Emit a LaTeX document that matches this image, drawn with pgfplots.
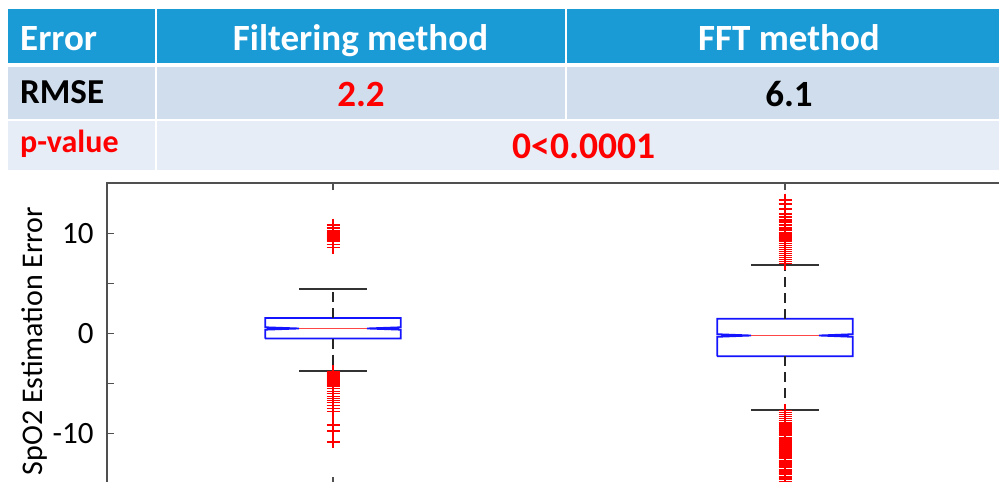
\documentclass[border=0pt]{standalone}
\usepackage{pgfplots}
\pgfplotsset{compat=1.18}
\usepackage{fontspec}
\setmainfont{Carlito}
\definecolor{hdr}{RGB}{27,155,214}
\definecolor{rowa}{RGB}{207,221,236}
\definecolor{rowb}{RGB}{231,237,246}
\definecolor{axgray}{RGB}{80,80,80}
\definecolor{boxblue}{RGB}{20,20,255}
\definecolor{medred}{RGB}{255,70,70}
\begin{document}
\begin{tikzpicture}
\useasboundingbox (0pt,0pt) rectangle (999pt,-482pt);
\clip (0pt,0pt) rectangle (999pt,-482pt);
\begin{scope}[x=1pt,y=-1pt]
\fill[hdr] (8,9) rectangle (154.5,62.5);
\fill[hdr] (156.5,9) rectangle (564.5,62.5);
\fill[hdr] (566.5,9) rectangle (1011,62.5);
\fill[rowa] (8,66.5) rectangle (154.5,119);
\fill[rowa] (156.5,66.5) rectangle (564.5,119);
\fill[rowa] (566.5,66.5) rectangle (1011,119);
\fill[rowb] (8,121) rectangle (154.5,170);
\fill[rowb] (156.5,121) rectangle (1011,170);
\node[anchor=base west,inner sep=0pt,text=white,font=\bfseries\fontsize{37}{37}\selectfont] at (20,50) {Error};
\node[anchor=base,inner sep=0pt,text=white,font=\bfseries\fontsize{37}{37}\selectfont] at (360.5,50) {Filtering method};
\node[anchor=base,inner sep=0pt,text=white,font=\bfseries\fontsize{37}{37}\selectfont] at (789,50) {FFT method};
\node[anchor=base west,inner sep=0pt,text=black,font=\bfseries\fontsize{35}{35}\selectfont] at (20,103) {RMSE};
\node[anchor=base,inner sep=0pt,text=red,font=\bfseries\fontsize{37}{37}\selectfont] at (361,106) {2.2};
\node[anchor=base,inner sep=0pt,text=black,font=\bfseries\fontsize{37}{37}\selectfont] at (789,106) {6.1};
\node[anchor=base west,inner sep=0pt,text=red,font=\bfseries\fontsize{32}{32}\selectfont] at (20,152) {p-value};
\node[anchor=base,inner sep=0pt,text=red,font=\bfseries\fontsize{37.5}{37.5}\selectfont] at (584,158) {0<0.0001};
\end{scope}
\begin{axis}[
  at={(107pt,-183pt)}, anchor=north west,
  width=904pt, height=301pt, scale only axis,
  xmin=0.5, xmax=2.5, ymin=-15, ymax=15,
  xtick={1,2}, xticklabels={,},
  ytick={-10,-5,0,5,10}, yticklabels={-10,,0,,10},
  tick align=inside, major tick length=7pt,
  tick style={line width=1.3pt, color=axgray},
  axis line style={line width=1.8pt, color=axgray},
  yticklabel style={font=\fontsize{31}{31}\selectfont, xshift=-10pt},
  ylabel={SpO2 Estimation Error},
  ylabel style={font=\fontsize{30}{30}\selectfont, at={(axis description cs:-0.0797,0.475)}, anchor=center},
]
% box 1
\addplot[boxblue, line width=1.8pt] coordinates {(0.85,-0.5) (0.85,0.38) (0.925,0.5) (0.85,0.62) (0.85,1.55) (1.15,1.55) (1.15,0.62) (1.075,0.5) (1.15,0.38) (1.15,-0.5) (0.85,-0.5)};
\addplot[medred, line width=1.8pt] coordinates {(0.925,0.5) (1.075,0.5)};
\addplot[black!85, line width=2pt, dash pattern=on 10pt off 6pt] coordinates {(1,1.55) (1,4.47)};
\addplot[black!85, line width=2pt, dash pattern=on 10pt off 6pt] coordinates {(1,-0.5) (1,-3.7)};
\addplot[black!80, line width=1.8pt] coordinates {(0.925,4.47) (1.075,4.47)};
\addplot[black!80, line width=1.8pt] coordinates {(0.925,-3.7) (1.075,-3.7)};
\addplot[only marks, mark=+, red, mark size=6.5pt, mark options={red, line width=1.4pt}] coordinates {
(1,10.8) (1,10.5) (1,10.2) (1,10.0) (1,9.9) (1,9.8) (1,9.7) (1,9.6) (1,9.5) (1,9.4) (1,9.3) (1,9.2) (1,8.9) (1,8.6)
(1,-3.8) (1,-3.9) (1,-4.0) (1,-4.1) (1,-4.2) (1,-4.3) (1,-4.4) (1,-4.5) (1,-4.6) (1,-4.7) (1,-4.8) (1,-4.9) (1,-5.0) (1,-5.1) (1,-5.2) (1,-5.3)
(1,-5.5) (1,-5.8) (1,-6.0) (1,-6.3) (1,-6.5) (1,-6.7) (1,-6.9) (1,-7.2) (1,-7.5) (1,-7.8)
(1,-9.1) (1,-9.7) (1,-10.8)};
% box 2
\addplot[boxblue, line width=1.8pt] coordinates {(1.85,-2.27) (1.85,-0.33) (1.925,-0.2) (1.85,-0.07) (1.85,1.47) (2.15,1.47) (2.15,-0.07) (2.075,-0.2) (2.15,-0.33) (2.15,-2.27) (1.85,-2.27)};
\addplot[medred, line width=1.8pt] coordinates {(1.925,-0.2) (2.075,-0.2)};
\addplot[black!85, line width=2pt, dash pattern=on 10pt off 6pt] coordinates {(2,1.47) (2,6.8)};
\addplot[black!85, line width=2pt, dash pattern=on 10pt off 6pt] coordinates {(2,-2.27) (2,-7.6)};
\addplot[black!80, line width=1.8pt] coordinates {(1.925,6.8) (2.075,6.8)};
\addplot[black!80, line width=1.8pt] coordinates {(1.925,-7.6) (2.075,-7.6)};
\addplot[only marks, mark=+, red, mark size=6.5pt, mark options={red, line width=1.4pt}] coordinates {
(2,13.3) (2,12.9) (2,12.4) (2,11.9) (2,11.6) (2,11.3) (2,11.1) (2,10.8) (2,10.5) (2,10.3) (2,10.0) (2,9.8) (2,9.6) (2,9.5) (2,9.4) (2,9.2) (2,9.0) (2,8.8) (2,8.6) (2,8.4) (2,8.2) (2,8.0) (2,7.8) (2,7.6) (2,7.4) (2,7.2) (2,7.0)
(2,-7.7) (2,-7.9) (2,-8.1) (2,-8.3) (2,-8.5) (2,-8.7) (2,-8.9) (2,-9.1) (2,-9.3) (2,-9.5) (2,-9.7) (2,-9.9) (2,-10.1) (2,-10.4) (2,-10.6) (2,-10.8) (2,-11.0) (2,-11.2) (2,-11.4) (2,-11.6) (2,-11.8) (2,-12.0) (2,-12.2) (2,-12.4) (2,-12.7) (2,-12.9) (2,-13.1) (2,-13.3) (2,-13.6) (2,-13.8) (2,-14.0) (2,-14.3) (2,-14.5) (2,-14.8)};
\end{axis}
\end{tikzpicture}
\end{document}
